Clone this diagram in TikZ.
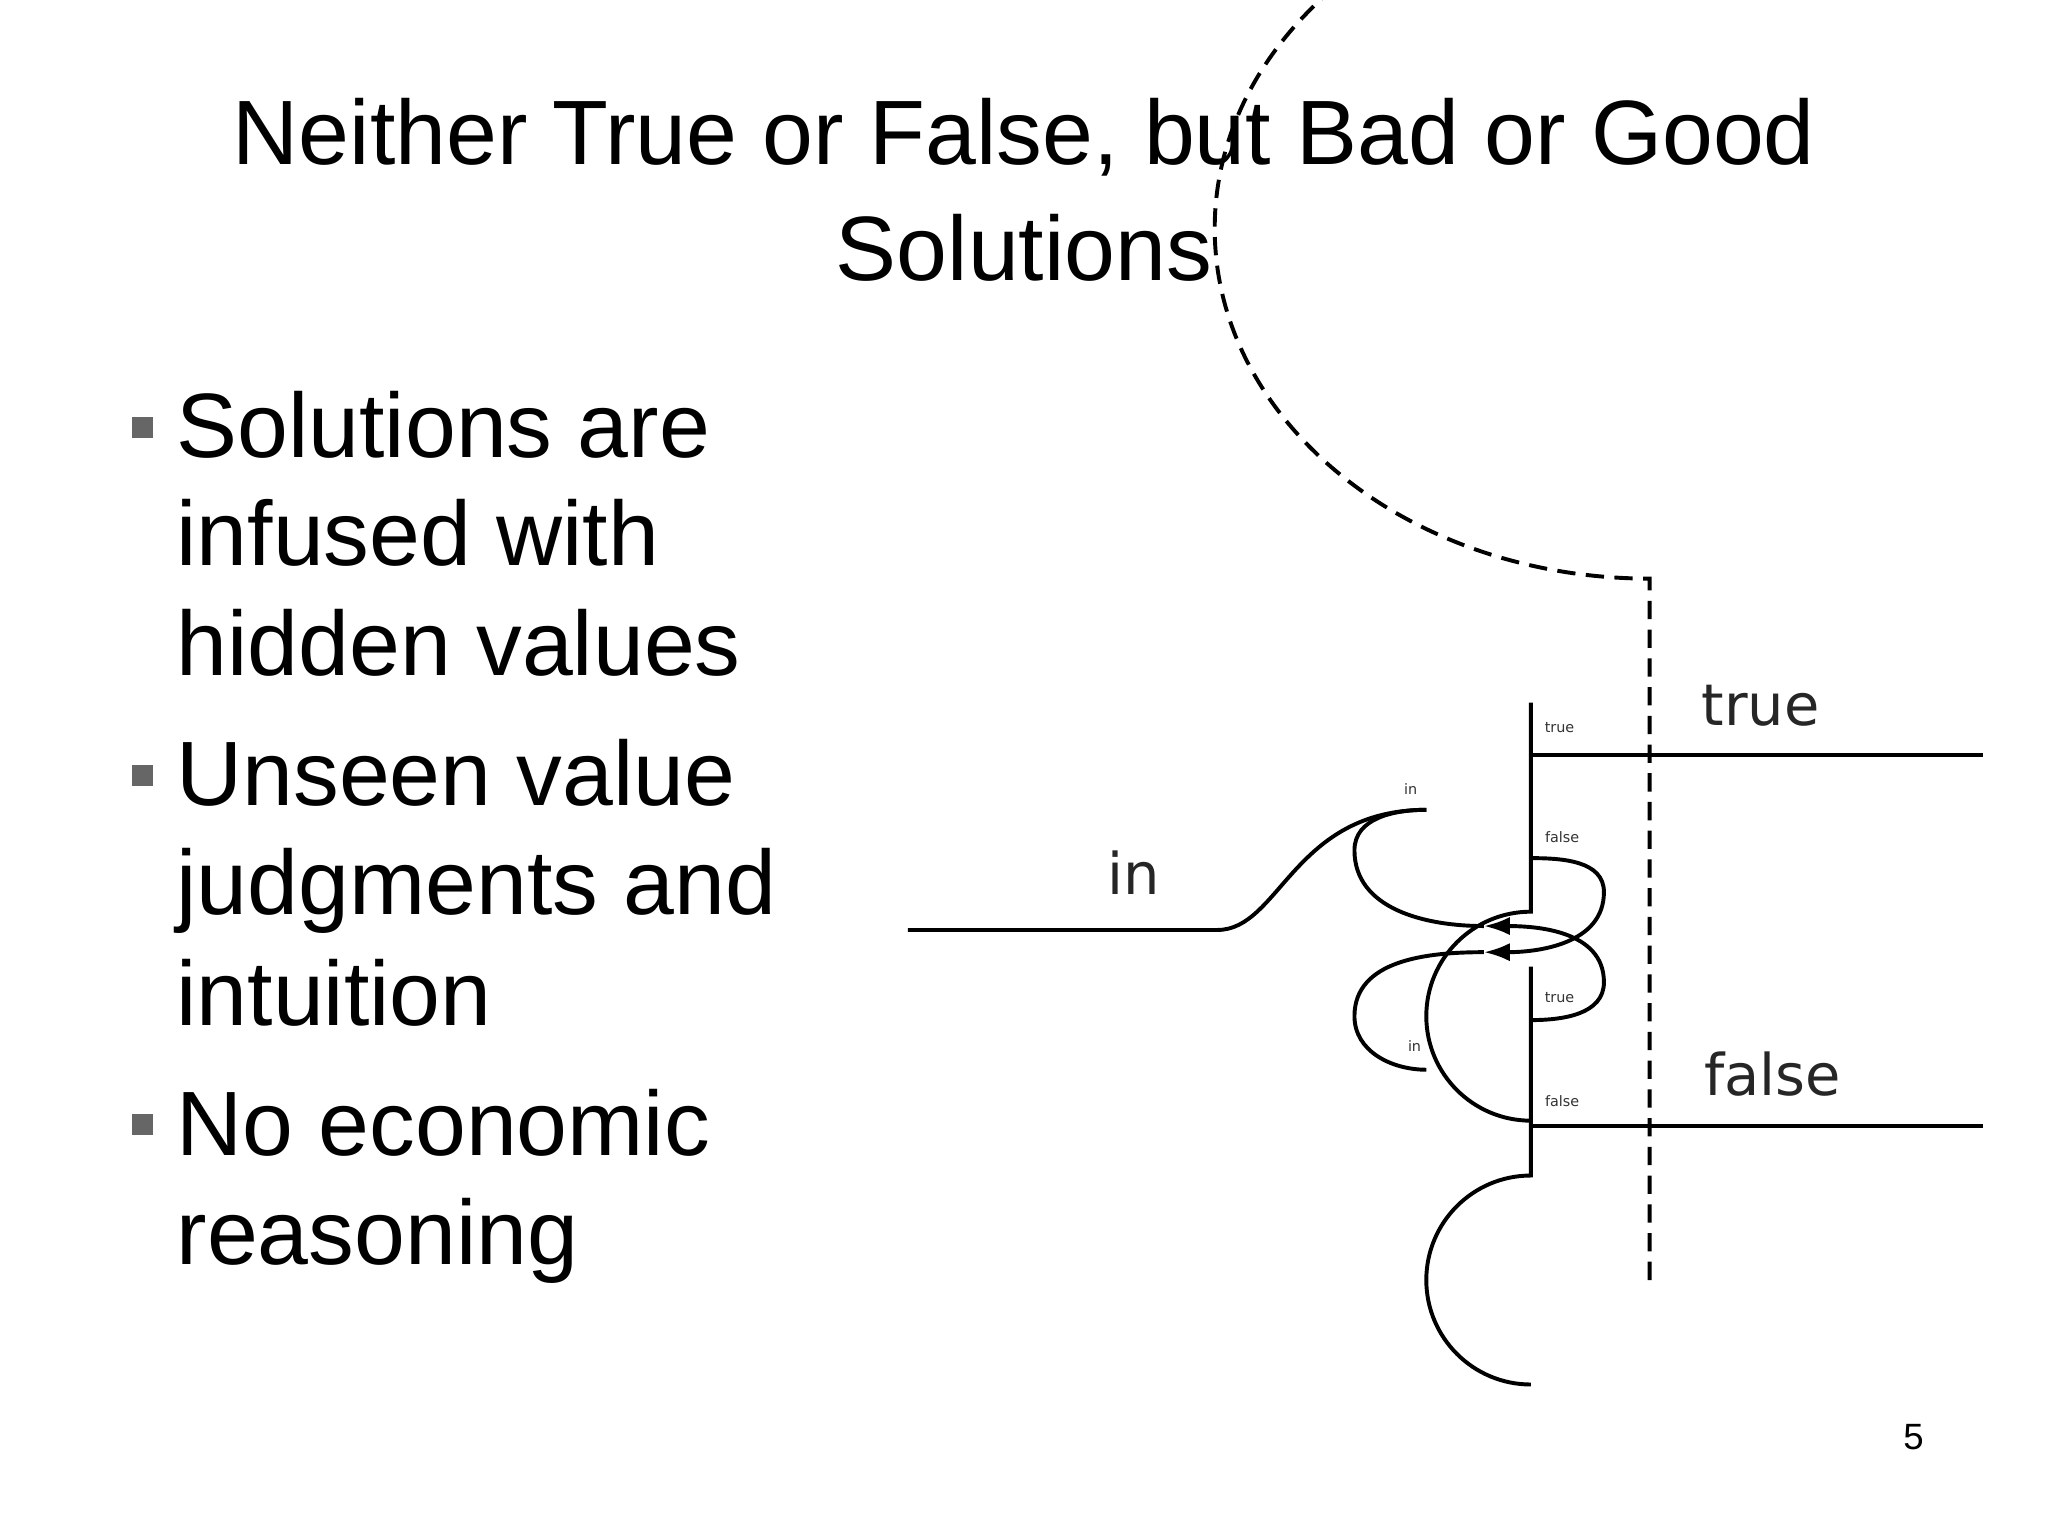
\documentclass[tikz,border=0pt]{standalone}
\usepackage{fontspec}
\setmainfont{Liberation Sans}
\newfontfamily\dvs{DejaVu Sans}
\usetikzlibrary{arrows.meta}
\begin{document}
\begin{tikzpicture}[x=1pt,y=-1pt,
  wire/.style={line width=3pt},
  bul/.style={anchor=base west,font=\fontsize{70}{80}\selectfont,inner sep=0},
  sq/.style={fill=gray!80!black,minimum size=16pt,inner sep=0},
  small/.style={font=\dvs\fontsize{11}{12}\selectfont,text=black!80,inner sep=0},
  big/.style={font=\dvs\fontsize{44}{48}\selectfont,text=black!85,inner sep=0}]
\useasboundingbox[fill=white] (0,0) rectangle (1568,1176);
\node (t1) at (784,105) {\fontsize{70}{80}\selectfont Neither True or False, but Bad or Good};
\node (t2) at (784,190) {\fontsize{70}{80}\selectfont Solutions};
\node[sq] (b1) at (109,327) {};
\node[sq] (b2) at (109,594) {};
\node[sq] (b3) at (109,861) {};
\node[bul] (l1) at (135,350) {Solutions are};
\node[bul] (l2) at (135,433) {infused with};
\node[bul] (l3) at (135,517) {hidden values};
\node[bul] (l4) at (135,617) {Unseen value};
\node[bul] (l5) at (135,700) {judgments and};
\node[bul] (l6) at (135,785) {intuition};
\node[bul] (l7) at (135,885) {No economic};
\node[bul] (l8) at (135,968) {reasoning};
\node (pg) at (1465,1100) {\fontsize{28}{30}\selectfont 5};
% outer dashed gate
\draw[wire,dash pattern=on 14pt off 8pt] (1263,980) -- (1263,443) arc[start angle=90,end angle=270,x radius=333,y radius=268];
% inner gates
\draw[wire] (1172,538) -- (1172,698) arc[start angle=270,end angle=90,radius=80];
\draw[wire] (1172,740) -- (1172,900) arc[start angle=270,end angle=90,radius=80];
\coordinate (ain) at (695,712);
\coordinate (aj) at (932,712);
\coordinate (g1in) at (1092,620);
\coordinate (g2in) at (1092,819);
\coordinate (g1t) at (1172,578);
\coordinate (g1f) at (1172,657);
\coordinate (g2t) at (1172,781);
\coordinate (g2f) at (1172,862);
\coordinate (ot) at (1518,578);
\coordinate (of) at (1518,862);
\coordinate (ar1) at (1136,729);
\coordinate (ar2) at (1136,709);
\draw[wire] (ain) -- (aj) .. controls (980,712) and (990,620) .. (g1in);
\draw[wire] (g1t) -- (ot);
\draw[wire] (g2f) -- (of);
\draw[wire,-{Latex[length=20pt,width=14pt]}] (g1f) to[out=0,in=90] (1228,683) to[out=-90,in=0] (ar1);
\draw[wire] (ar1) to[out=180,in=90] (1037,778) to[out=-90,in=180] (g2in);
\draw[wire,-{Latex[length=20pt,width=14pt]}] (g2t) to[out=0,in=-90] (1228,752) to[out=90,in=0] (ar2);
\draw[wire] (ar2) to[out=180,in=-90] (1037,651) to[out=90,in=180] (g1in);
\node[small] (s1) at (1194,557) {true};
\node[small] (s2) at (1196,641) {false};
\node[small] (s3) at (1080,604) {in};
\node[small] (s4) at (1194,764) {true};
\node[small] (s5) at (1083,801) {in};
\node[small] (s6) at (1196,843) {false};
\node[big] (L1) at (1348,540) {true};
\node[big] (L2) at (1357,822) {false};
\node[big] (L3) at (868,668) {in};
\end{tikzpicture}
\end{document}
